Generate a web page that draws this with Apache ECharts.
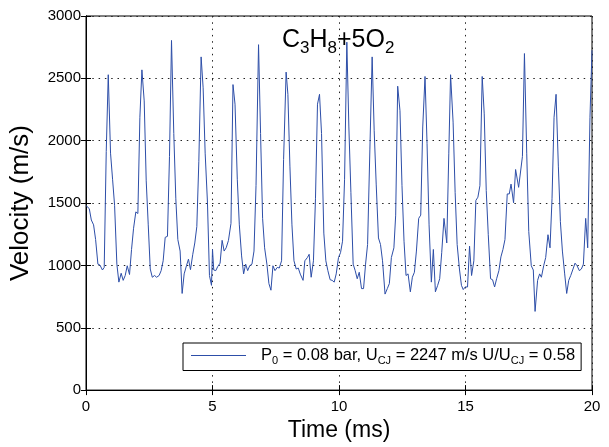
<!DOCTYPE html>
<html>
<head>
<meta charset="utf-8">
<script src="https://cdn.jsdelivr.net/npm/echarts@6/dist/echarts.min.js"></script>
<style>html,body{margin:0;padding:0;background:#fff;}#chart{width:609px;height:447px;}</style>
</head>
<body>
<div id="chart"></div>
<script>
const timeMs = [0.00,0.13,0.21,0.30,0.38,0.47,0.55,0.65,0.72,0.80,0.88,0.97,1.05,1.13,1.22,1.30,1.39,1.47,1.55,1.63,1.72,1.80,1.88,1.97,2.05,2.13,2.21,2.30,2.38,2.46,2.54,2.62,2.71,2.79,2.89,2.97,3.05,3.13,3.22,3.30,3.38,3.47,3.55,3.63,3.72,3.80,3.88,3.97,4.05,4.13,4.22,4.30,4.38,4.46,4.55,4.63,4.71,4.80,4.88,4.96,5.00,5.05,5.13,5.21,5.30,5.38,5.46,5.54,5.63,5.73,5.81,5.89,5.98,6.06,6.15,6.23,6.31,6.39,6.47,6.56,6.64,6.72,6.82,6.90,6.98,7.06,7.15,7.23,7.31,7.39,7.47,7.56,7.64,7.73,7.81,7.91,7.98,8.06,8.14,8.22,8.31,8.39,8.47,8.58,8.65,8.75,8.82,8.90,8.99,9.07,9.15,9.23,9.31,9.40,9.48,9.56,9.65,9.73,9.81,9.89,9.98,10.06,10.14,10.22,10.31,10.39,10.47,10.56,10.64,10.72,10.80,10.89,10.97,11.05,11.13,11.22,11.31,11.39,11.47,11.56,11.64,11.72,11.82,11.91,11.99,12.07,12.17,12.24,12.32,12.41,12.49,12.57,12.65,12.73,12.82,12.90,12.98,13.06,13.15,13.23,13.31,13.40,13.48,13.56,13.65,13.73,13.81,13.90,13.98,14.06,14.15,14.26,14.34,14.41,14.51,14.59,14.67,14.76,14.84,14.91,14.99,15.08,15.16,15.24,15.33,15.41,15.49,15.57,15.66,15.74,15.82,15.90,15.99,16.07,16.15,16.23,16.32,16.40,16.48,16.56,16.65,16.73,16.80,16.90,16.98,17.10,17.17,17.25,17.33,17.42,17.50,17.60,17.68,17.75,17.85,17.93,18.00,18.09,18.17,18.26,18.34,18.42,18.50,18.58,18.67,18.75,18.83,18.92,19.00,19.08,19.16,19.25,19.33,19.41,19.50,19.58,19.66,19.75,19.83,19.92,20.00];
const velocity = [1480,1455,1364,1325,1207,1010,1003,963,984,1914,2529,1900,1691,1482,1010,866,937,880,919,997,927,1128,1298,1429,1416,2188,2568,2319,1678,1325,971,905,919,905,919,958,1037,1225,1233,1874,2804,2057,1534,1207,1115,775,932,997,1050,966,1089,1180,1311,1835,2672,2424,1900,1508,919,840,1128,963,958,992,1018,1201,1115,1141,1200,1337,2450,2293,1691,1325,1076,932,1010,958,997,1010,1115,1639,2770,2057,1377,1141,1010,854,801,997,958,984,979,1037,1848,2550,2372,1796,1325,1037,971,979,930,880,1037,1063,1089,905,1037,1534,2293,2372,2057,1259,1037,958,885,880,866,932,1063,1102,1194,1691,2790,2110,1586,1010,958,893,945,814,814,1010,1168,1926,2672,2084,1652,1220,1168,1037,770,814,854,1063,1141,1403,2437,2240,1639,1194,919,932,788,905,945,1115,1377,1403,2110,2515,1979,1325,866,1128,788,840,893,1102,1377,1180,1900,2529,2149,1586,1168,971,840,806,827,827,1154,919,1037,1521,1547,1639,2515,2215,1600,1246,893,885,827,893,958,1068,1128,1207,1573,1573,1652,1502,1769,1626,1639,1874,2699,1900,1272,997,963,631,880,932,905,997,1063,1246,1141,1534,2188,2372,1796,1351,1115,932,775,880,919,971,1018,997,958,971,1010,1377,1141,2188,2725];
const xTicks = [0, 5, 10, 15, 20];
const yTicks = [0, 500, 1000, 1500, 2000, 2500, 3000];
const xLabel = 'Time (ms)';
const yLabel = 'Velocity (m/s)';
const seriesName = 'P0 = 0.08 bar, UCJ = 2247 m/s U/UCJ = 0.58';

const FONT = 'Liberation Sans, Arial, Helvetica, sans-serif';
const LINE = '#2d4ea8';
const chart = echarts.init(document.getElementById('chart'), null, {renderer: 'canvas'});
const data = timeMs.map((t, i) => [t, velocity[i]]);
const gridLine = {show: true, lineStyle: {color: '#222', width: 1, type: [1.5, 4.8]}};

const xBase = {
  type: 'value', min: xTicks[0], max: xTicks[xTicks.length - 1], interval: xTicks[1] - xTicks[0],
  axisLine: {show: true, lineStyle: {color: '#000', width: 1}},
  axisTick: {show: true, inside: true, length: 5, lineStyle: {color: '#000'}}
};
const yBase = {
  type: 'value', min: yTicks[0], max: yTicks[yTicks.length - 1], interval: yTicks[1] - yTicks[0],
  axisLine: {show: true, lineStyle: {color: '#000', width: 1}},
  axisTick: {show: true, inside: true, length: 5, lineStyle: {color: '#000'}}
};

chart.setOption({
  animation: false,
  backgroundColor: '#fff',
  title: {
    text: '{a|C}{s|3}{a|H}{s|8}{a|+5O}{s|2}',
    left: 277, top: 18,
    textStyle: {
      fontWeight: 'normal',
      rich: {
        a: {fontFamily: FONT, fontSize: 25, fontWeight: 'normal', color: '#000', lineHeight: 34},
        s: {fontFamily: FONT, fontSize: 17, fontWeight: 'normal', color: '#000', lineHeight: 16, verticalAlign: 'bottom'}
      }
    }
  },
  grid: {left: 85, right: 17, top: 16, bottom: 50, show: true, borderColor: '#000', borderWidth: 1, backgroundColor: 'transparent'},
  legend: {
    show: true, left: 183, top: 343,
    backgroundColor: '#fff', borderColor: '#000', borderWidth: 1,
    padding: [4, 6, 4, 8],
    icon: 'rect',
    itemWidth: 55, itemHeight: 1.2,
    data: [{name: seriesName}],
    formatter: function () {
      return '{g|}{a|P}{s|0}{a| = 0.08 bar, U}{s|CJ}{a| = 2247 m/s U/U}{s|CJ}{a| = 0.58}';
    },
    textStyle: {
      rich: {
        g: {width: 10},
        a: {fontFamily: FONT, fontSize: 16.5, color: '#000', lineHeight: 22},
        s: {fontFamily: FONT, fontSize: 11, color: '#000', lineHeight: 12, verticalAlign: 'bottom'}
      }
    }
  },
  xAxis: [
    Object.assign({}, xBase, {
      position: 'bottom',
      name: xLabel, nameLocation: 'middle', nameGap: 22,
      nameTextStyle: {fontFamily: FONT, fontSize: 23, color: '#000'},
      axisLabel: {show: true, margin: 9, fontFamily: FONT, fontSize: 15, color: '#000', formatter: v => String(v)},
      splitLine: gridLine
    }),
    Object.assign({}, xBase, {position: 'top', axisLabel: {show: false}, splitLine: {show: false}})
  ],
  yAxis: [
    Object.assign({}, yBase, {
      position: 'left',
      name: yLabel, nameLocation: 'middle', nameGap: 52,
      nameTextStyle: {fontFamily: FONT, fontSize: 26, color: '#000'},
      axisLabel: {show: true, margin: 5, fontFamily: FONT, fontSize: 15, color: '#000', formatter: v => String(v)},
      splitLine: gridLine
    }),
    Object.assign({}, yBase, {position: 'right', axisLabel: {show: false}, splitLine: {show: false}})
  ],
  series: [{
    name: seriesName, type: 'line', data: data,
    xAxisIndex: 0, yAxisIndex: 0,
    symbol: 'none', showSymbol: false,
    lineStyle: {color: LINE, width: 1}, itemStyle: {color: LINE},
    z: 3
  }]
});
</script>
</body>
</html>
